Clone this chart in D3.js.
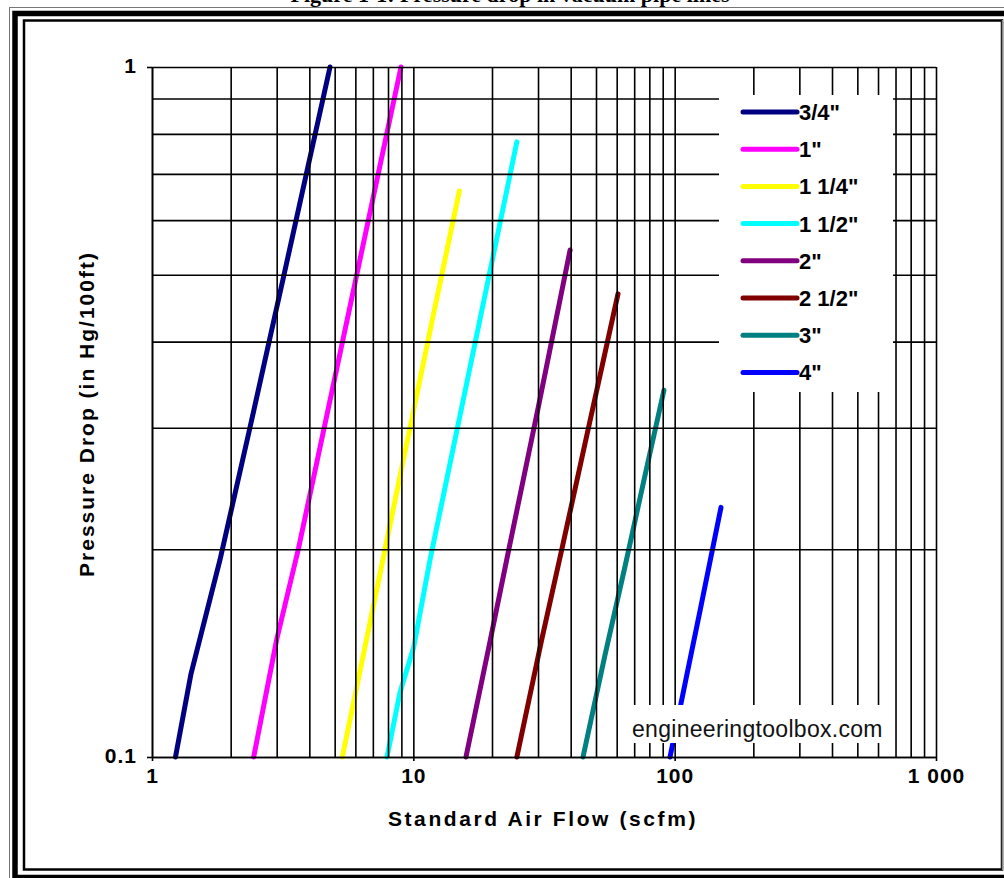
<!DOCTYPE html>
<html>
<head>
<meta charset="utf-8">
<script src="https://d3js.org/d3.v7.min.js"></script>
<style>
  body { margin: 0; background: #fff; }
  svg { display: block; }
  text { font-family: "Liberation Sans", Arial, sans-serif; }
</style>
</head>
<body>
<div id="chart"></div>
<script>
// pipe sizes, in legend order
var sizes = ['3/4"', '1"', '1 1/4"', '1 1/2"', '2"', '2 1/2"', '3"', '4"'];
var colors = ["#000080", "#ff00ff", "#ffff00", "#00ffff", "#800080", "#800000", "#008080", "#0000ff"];

// standard air flow (scfm) / pressure drop (in Hg/100ft)
var flow34 = [1.23, 1.41, 1.82, 2.37, 3.2, 4.8];
var drop34 = [0.1, 0.132, 0.193, 0.3, 0.5, 1.0];
var flow1 = [2.45, 3.0, 3.63, 5.05, 6.73, 8.97];
var drop1 = [0.1, 0.148, 0.2, 0.36, 0.6, 1.0];
var flow114 = [5.35, 7.0, 9.0, 12.0, 15.0];
var drop114 = [0.1, 0.164, 0.261, 0.442, 0.661];
var flow112 = [7.93, 8.89, 10.02, 11.58, 24.9];
var drop112 = [0.1, 0.124, 0.144, 0.193, 0.779];
var flow2 = [15.9, 19.5, 23.2, 30, 39.8];
var drop2 = [0.1, 0.145, 0.2, 0.32, 0.543];
var flow212 = [24.9, 31, 37, 46.8, 60.7];
var drop212 = [0.1, 0.148, 0.2, 0.3, 0.469];
var flow3 = [44.6, 54, 64.8, 77.7, 91];
var drop3 = [0.1, 0.14, 0.19, 0.26, 0.34];
var flow4 = [96, 110.6, 125.9, 150.4];
var drop4 = [0.1, 0.13, 0.165, 0.23];

var flows = [flow34, flow1, flow114, flow112, flow2, flow212, flow3, flow4];
var drops = [drop34, drop1, drop114, drop112, drop2, drop212, drop3, drop4];

// axis ticks
var flowTicks = [1, 10, 100, 1000];
var flowLabels = ["1", "10", "100", "1 000"];
var dropTicks = [0.1, 1];
var dropLabels = ["0.1", "1"];

var W = 1004, H = 878;
var margin = { top: 67, left: 152 },
    width = 936 - 152,
    height = 757 - 67;

var svg = d3.select("#chart")
    .append("svg")
    .attr("width", W)
    .attr("height", H);

// title, cut off at the top of the page like the original
svg.append("text")
    .attr("x", 510)
    .attr("y", 2)
    .attr("text-anchor", "middle")
    .style("font-family", "'Liberation Serif', 'Times New Roman', serif")
    .style("font-weight", "bold")
    .style("font-size", "22px")
    .text("Figure 1-1: Pressure drop in vacuum pipe lines");

// frame
svg.append("rect").attr("x", 9.5).attr("y", 7.5).attr("width", 1100).attr("height", 1000)
    .attr("fill", "none").attr("stroke", "#777").attr("stroke-width", 1);
svg.append("rect").attr("x", 15).attr("y", 13.5).attr("width", 1100).attr("height", 864)
    .attr("fill", "none").attr("stroke", "#000").attr("stroke-width", 5.5);
svg.append("rect").attr("x", 24).attr("y", 20.5).attr("width", 978).attr("height", 849)
    .attr("fill", "#fff").attr("stroke", "#000").attr("stroke-width", 2.5);
svg.append("line").attr("x1", 1002.5).attr("x2", 1002.5).attr("y1", 20).attr("y2", 870)
    .attr("stroke", "#888").attr("stroke-width", 1.5);

var g = svg.append("g")
    .attr("transform", "translate(" + margin.left + "," + margin.top + ")");

var x = d3.scaleLog()
    .domain([1, 1000])
    .range([0, width]);

var y = d3.scaleLog()
    .domain([0.1, 1])
    .range([height, 0]);

// curves
var line = d3.line()
    .x(function (d) { return x(d[0]); })
    .y(function (d) { return y(d[1]); });

flows.forEach(function (f, i) {
    g.append("path")
        .datum(f.map(function (v, j) { return [v, drops[i][j]]; }))
        .attr("d", line)
        .attr("fill", "none")
        .attr("stroke", colors[i])
        .attr("stroke-width", 5)
        .attr("stroke-linecap", "round")
        .attr("stroke-linejoin", "round");
});

// grid (sits over the curves)
g.append("g")
    .attr("class", "grid")
    .attr("transform", "translate(0," + height + ")")
    .call(d3.axisBottom(x).tickValues(x.ticks()).tickSize(-height).tickFormat(""))
    .call(function (s) { s.select(".domain").remove(); });

g.append("g")
    .attr("class", "grid")
    .call(d3.axisLeft(y).tickValues(y.ticks()).tickSize(-width).tickFormat(""))
    .call(function (s) { s.select(".domain").remove(); });

g.selectAll(".grid line")
    .attr("stroke", "#000")
    .attr("stroke-width", 1.6);

// axes
var xAxis = g.append("g")
    .attr("transform", "translate(0," + height + ")")
    .call(d3.axisBottom(x).tickValues(flowTicks)
        .tickFormat(function (d, i) { return flowLabels[i]; })
        .tickSize(4).tickPadding(7).tickSizeOuter(0));

var yAxis = g.append("g")
    .call(d3.axisLeft(y).tickValues(dropTicks)
        .tickFormat(function (d, i) { return dropLabels[i]; })
        .tickSize(5).tickPadding(10).tickSizeOuter(0));

[xAxis, yAxis].forEach(function (a) {
    a.selectAll(".domain").attr("stroke", "#000").attr("stroke-width", 1.6);
    a.selectAll(".tick line").attr("stroke", "#000").attr("stroke-width", 1.6);
    a.selectAll("text")
        .attr("fill", "#000")
        .style("font-family", "'Liberation Sans', Arial, sans-serif")
        .style("font-weight", "bold")
        .style("font-size", "21px")
        .style("letter-spacing", "1px");
});
yAxis.selectAll("text").attr("dy", "0.25em");

// axis titles
svg.append("text")
    .attr("x", 543)
    .attr("y", 826)
    .attr("text-anchor", "middle")
    .style("font-weight", "bold")
    .style("font-size", "21px")
    .style("letter-spacing", "2.6px")
    .text("Standard Air Flow (scfm)");

svg.append("text")
    .attr("transform", "translate(94,414) rotate(-90)")
    .attr("text-anchor", "middle")
    .style("font-weight", "bold")
    .style("font-size", "21px")
    .style("letter-spacing", "2px")
    .text("Pressure Drop (in Hg/100ft)");

// watermark
svg.append("rect")
    .attr("x", 628).attr("y", 705)
    .attr("width", 262).attr("height", 38)
    .attr("fill", "#fff");
svg.append("text")
    .attr("x", 632)
    .attr("y", 737)
    .style("font-size", "23px")
    .style("letter-spacing", "0.3px")
    .attr("fill", "#111")
    .text("engineeringtoolbox.com");

// legend
svg.append("rect")
    .attr("x", 719).attr("y", 95)
    .attr("width", 174).attr("height", 297)
    .attr("fill", "#fff");

var legend = svg.append("g")
    .selectAll("g")
    .data(sizes)
    .enter()
    .append("g")
    .attr("transform", function (d, i) { return "translate(743," + (112 + i * 37.2) + ")"; });

legend.append("line")
    .attr("x1", 0).attr("x2", 54)
    .attr("stroke", function (d, i) { return colors[i]; })
    .attr("stroke-width", 5)
    .attr("stroke-linecap", "round");

legend.append("text")
    .attr("x", 56)
    .attr("y", 8)
    .style("font-weight", "bold")
    .style("font-size", "22px")
    .text(function (d) { return d; });
</script>
</body>
</html>
